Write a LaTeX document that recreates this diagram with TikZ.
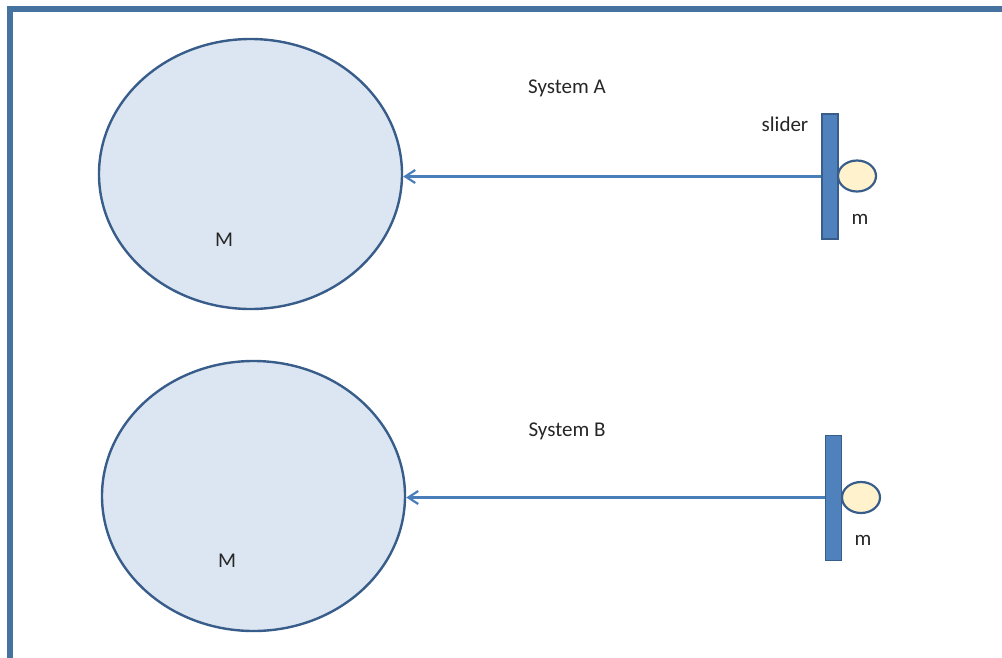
\documentclass[tikz,border=0pt]{standalone}
\usepackage{fontspec}
\setmainfont{Carlito}
\usetikzlibrary{shapes.geometric,arrows.meta}

\definecolor{frameblue}{HTML}{46729F}
\definecolor{edgeblue}{HTML}{385D8A}
\definecolor{massfill}{HTML}{DCE6F2}
\definecolor{lineblue}{HTML}{4A7EBB}
\definecolor{sliderfill}{HTML}{4F81BD}
\definecolor{ballfill}{HTML}{FFF2CC}

\tikzset{
  planet/.style={ellipse,draw=edgeblue,line width=2.4pt,fill=massfill,minimum width=303pt,minimum height=270pt,inner sep=0pt},
  sliderbar/.style={rectangle,draw=edgeblue,line width=1.2pt,fill=sliderfill,minimum width=16pt,minimum height=125pt,inner sep=0pt},
  ball/.style={ellipse,draw=edgeblue,line width=2.2pt,fill=ballfill,minimum width=38pt,minimum height=31pt,inner sep=0pt},
  pull/.style={draw=lineblue,line width=2.2pt,-{Straight Barb[length=10pt,width=13pt,line width=2.2pt]}},
  lbl/.style={text=black!85,inner sep=0pt}
}

\begin{document}
\begin{tikzpicture}[x=1pt,y=-1pt,font=\fontsize{21}{23}\selectfont]

\useasboundingbox (0,0) rectangle (1002,657);
\draw[frameblue,line width=6pt] (10,9) rectangle (1020,680);

% system A
\begin{scope}
\node[planet] (bigA) at (250.5,174) {};
\node[lbl] (MA) at (224,240) {M};
\node[sliderbar] (sliderA) at (830,176.5) {};
\node[ball] (ballA) at (857,176) {};
\node[lbl] (mA) at (860,219) {m};
\node[lbl] (slA) at (785,124) {slider};
\node[lbl] (sysA) at (567,88) {System A};
\draw[pull] (sliderA.west) -- (sliderA.west -| bigA.east);
\end{scope}

% system B
\begin{scope}
\node[planet] (bigB) at (253.5,496) {};
\node[lbl] (MB) at (227,561) {M};
\node[sliderbar] (sliderB) at (833.5,498) {};
\node[ball] (ballB) at (861,497.5) {};
\node[lbl] (mB) at (863,540) {m};
\node[lbl] (sysB) at (567,431) {System B};
\draw[pull] (sliderB.west |- ballB.center) -- (ballB.center -| bigB.east);
\end{scope}

\end{tikzpicture}
\end{document}
